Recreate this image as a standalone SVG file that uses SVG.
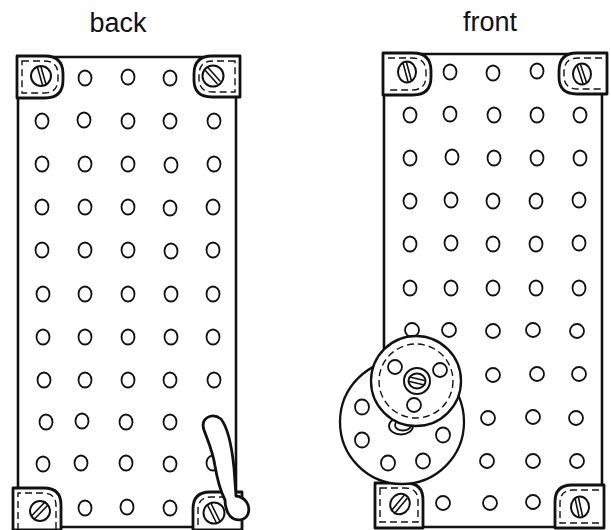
<svg xmlns="http://www.w3.org/2000/svg" width="611" height="530" viewBox="0 0 611 530">
  <style>
    .label { font-family: "Liberation Sans", Arial, sans-serif; font-size: 27px; fill: #111; text-anchor: middle; }
    .panel { fill: none; stroke: #111; stroke-width: 2.6; stroke-linejoin: round; }
    .hole { fill: #fff; stroke: #111; stroke-width: 1.8; }
    .plate { fill: #fff; stroke: #111; stroke-width: 2.8; stroke-linejoin: round; }
    .seam { fill: none; stroke: #111; stroke-width: 1.4; stroke-dasharray: 7 4; }
    .screw { fill: #fff; stroke: #111; stroke-width: 2; }
    .slot { fill: none; stroke: #111; stroke-width: 1.6; stroke-linecap: round; }
    .disc { fill: #fff; stroke: #111; stroke-width: 2.3; }
  </style>
  <rect width="611" height="530" fill="#fff"/>

  <g id="label-back"><text class="label" x="118" y="32">back</text></g>
  <g id="label-front"><text class="label" x="490" y="31">front</text></g>

  <!-- back panel -->
  <g id="panel-back">
    <rect class="panel" x="18" y="57" width="218" height="470"/>
    <g id="holes-back">
      <ellipse class="hole" cx="85" cy="78" rx="6.5" ry="7.5"/>
      <ellipse class="hole" cx="128" cy="77" rx="6.5" ry="7.5"/>
      <ellipse class="hole" cx="170" cy="78" rx="6.5" ry="7.5"/>

      <ellipse class="hole" cx="42" cy="121" rx="6.5" ry="7.5"/>
      <ellipse class="hole" cx="84" cy="120" rx="6.5" ry="7.5"/>
      <ellipse class="hole" cx="128" cy="121" rx="6.5" ry="7.5"/>
      <ellipse class="hole" cx="170" cy="121" rx="6.5" ry="7.5"/>
      <ellipse class="hole" cx="214" cy="121" rx="6.5" ry="7.5"/>

      <ellipse class="hole" cx="42" cy="164" rx="6.5" ry="7.5"/>
      <ellipse class="hole" cx="85" cy="164" rx="6.5" ry="7.5"/>
      <ellipse class="hole" cx="128" cy="164" rx="6.5" ry="7.5"/>
      <ellipse class="hole" cx="171" cy="165" rx="6.5" ry="7.5"/>
      <ellipse class="hole" cx="214" cy="164" rx="6.5" ry="7.5"/>

      <ellipse class="hole" cx="42" cy="207" rx="6.5" ry="7.5"/>
      <ellipse class="hole" cx="85" cy="207" rx="6.5" ry="7.5"/>
      <ellipse class="hole" cx="128" cy="207" rx="6.5" ry="7.5"/>
      <ellipse class="hole" cx="170" cy="208" rx="6.5" ry="7.5"/>
      <ellipse class="hole" cx="213" cy="207" rx="6.5" ry="7.5"/>

      <ellipse class="hole" cx="42" cy="250" rx="6.5" ry="7.5"/>
      <ellipse class="hole" cx="85" cy="250" rx="6.5" ry="7.5"/>
      <ellipse class="hole" cx="128" cy="250" rx="6.5" ry="7.5"/>
      <ellipse class="hole" cx="171" cy="251" rx="6.5" ry="7.5"/>
      <ellipse class="hole" cx="213" cy="250" rx="6.5" ry="7.5"/>

      <ellipse class="hole" cx="43" cy="294" rx="6.5" ry="7.5"/>
      <ellipse class="hole" cx="85" cy="294" rx="6.5" ry="7.5"/>
      <ellipse class="hole" cx="128" cy="294" rx="6.5" ry="7.5"/>
      <ellipse class="hole" cx="171" cy="294" rx="6.5" ry="7.5"/>
      <ellipse class="hole" cx="213" cy="294" rx="6.5" ry="7.5"/>

      <ellipse class="hole" cx="43" cy="337" rx="6.5" ry="7.5"/>
      <ellipse class="hole" cx="85" cy="337" rx="6.5" ry="7.5"/>
      <ellipse class="hole" cx="128" cy="337" rx="6.5" ry="7.5"/>
      <ellipse class="hole" cx="171" cy="337" rx="6.5" ry="7.5"/>
      <ellipse class="hole" cx="213" cy="337" rx="6.5" ry="7.5"/>

      <ellipse class="hole" cx="44" cy="380" rx="6.5" ry="7.5"/>
      <ellipse class="hole" cx="85" cy="380" rx="6.5" ry="7.5"/>
      <ellipse class="hole" cx="128" cy="380" rx="6.5" ry="7.5"/>
      <ellipse class="hole" cx="170" cy="380" rx="6.5" ry="7.5"/>
      <ellipse class="hole" cx="214" cy="380" rx="6.5" ry="7.5"/>

      <ellipse class="hole" cx="46" cy="422" rx="6.5" ry="7.5"/>
      <ellipse class="hole" cx="82" cy="421" rx="6.5" ry="7.5"/>
      <ellipse class="hole" cx="126" cy="422" rx="6.5" ry="7.5"/>
      <ellipse class="hole" cx="170" cy="422" rx="6.5" ry="7.5"/>

      <ellipse class="hole" cx="43" cy="464" rx="6.5" ry="7.5"/>
      <ellipse class="hole" cx="81" cy="463" rx="6.5" ry="7.5"/>
      <ellipse class="hole" cx="126" cy="463" rx="6.5" ry="7.5"/>
      <ellipse class="hole" cx="170" cy="464" rx="6.5" ry="7.5"/>
      <ellipse class="hole" cx="213" cy="463" rx="6.5" ry="7.5"/>

      <ellipse class="hole" cx="85" cy="508" rx="6.5" ry="7.5"/>
      <ellipse class="hole" cx="127" cy="507" rx="6.5" ry="7.5"/>
      <ellipse class="hole" cx="170" cy="508" rx="6.5" ry="7.5"/>
    </g>

    <g id="plate-back-tl">
      <path class="plate" d="M17,56 H45 Q63,56 63,74 V80 Q63,98 45,98 H17 Z"/>
      <path class="seam" d="M22,61 H44 Q58,61 58,75 V79 Q58,93 44,93 H22 Z"/>
      <circle class="screw" cx="41" cy="76" r="10"/>
      <path class="slot" d="M37.5,67.5 L42.5,85 M41,67 L46,84.5"/>
    </g>
    <g id="plate-back-tr">
      <path class="plate" d="M240,56 H212 Q194,56 194,74 V80 Q194,97 212,97 H240 Z"/>
      <path class="seam" d="M235,61 H213 Q199,61 199,75 V79 Q199,92 213,92 H235 Z"/>
      <circle class="screw" cx="213" cy="76" r="10.5"/>
      <path class="slot" d="M204.5,69.5 L217,83.5 M207.5,67 L220,81"/>
    </g>
    <g id="plate-back-bl">
      <path class="plate" d="M13,488 H44 Q61,488 61,505 V530 H13 Z"/>
      <path class="seam" d="M18,530 V493 H43 Q56,493 56,506 V530"/>
      <circle class="screw" cx="40" cy="511" r="10"/>
      <path class="slot" d="M32.5,515 L45,502 M35,518.5 L47.5,505.5"/>
    </g>
    <g id="plate-back-br">
      <path class="plate" d="M242,492 H210 Q193,492 193,509 V530 H242 Z"/>
      <path class="seam" d="M237,497 H211 Q198,497 198,510 V530"/>
      <circle class="screw" cx="214" cy="513" r="10.5"/>
      <path class="slot" d="M207.5,505 L216,522 M211,503.5 L219.5,520.5"/>
    </g>

    <g id="lever">
      <path class="plate" d="M204,430 C200,418 212,412 221,419 C228,428 232,448 234,468 L236,496 C245,497 251,505 248,514 C245,521 236,522 230,516 C226,511 225,505 225,500 C220,490 217,478 215,466 C213,452 208,441 204,430 Z"/>
    </g>
  </g>

  <!-- front panel -->
  <g id="panel-front">
    <rect class="panel" x="384" y="54" width="218" height="473"/>
    <g id="holes-front">
      <ellipse class="hole" cx="450" cy="72" rx="6.5" ry="7.5"/>
      <ellipse class="hole" cx="493" cy="73" rx="6.5" ry="7.5"/>
      <ellipse class="hole" cx="537" cy="71" rx="6.5" ry="7.5"/>

      <ellipse class="hole" cx="410" cy="115" rx="6.5" ry="7.5"/>
      <ellipse class="hole" cx="450" cy="114" rx="6.5" ry="7.5"/>
      <ellipse class="hole" cx="494" cy="115" rx="6.5" ry="7.5"/>
      <ellipse class="hole" cx="537" cy="115" rx="6.5" ry="7.5"/>
      <ellipse class="hole" cx="580" cy="115" rx="6.5" ry="7.5"/>

      <ellipse class="hole" cx="410" cy="158" rx="6.5" ry="7.5"/>
      <ellipse class="hole" cx="452" cy="157" rx="6.5" ry="7.5"/>
      <ellipse class="hole" cx="494" cy="158" rx="6.5" ry="7.5"/>
      <ellipse class="hole" cx="537" cy="158" rx="6.5" ry="7.5"/>
      <ellipse class="hole" cx="580" cy="158" rx="6.5" ry="7.5"/>

      <ellipse class="hole" cx="410" cy="201" rx="6.5" ry="7.5"/>
      <ellipse class="hole" cx="451" cy="200" rx="6.5" ry="7.5"/>
      <ellipse class="hole" cx="493" cy="201" rx="6.5" ry="7.5"/>
      <ellipse class="hole" cx="536" cy="201" rx="6.5" ry="7.5"/>
      <ellipse class="hole" cx="579" cy="200" rx="6.5" ry="7.5"/>

      <ellipse class="hole" cx="410" cy="244" rx="6.5" ry="7.5"/>
      <ellipse class="hole" cx="451" cy="243" rx="6.5" ry="7.5"/>
      <ellipse class="hole" cx="493" cy="244" rx="6.5" ry="7.5"/>
      <ellipse class="hole" cx="536" cy="244" rx="6.5" ry="7.5"/>
      <ellipse class="hole" cx="579" cy="243" rx="6.5" ry="7.5"/>

      <ellipse class="hole" cx="410" cy="288" rx="6.5" ry="7.5"/>
      <ellipse class="hole" cx="451" cy="288" rx="6.5" ry="7.5"/>
      <ellipse class="hole" cx="493" cy="288" rx="6.5" ry="7.5"/>
      <ellipse class="hole" cx="536" cy="288" rx="6.5" ry="7.5"/>
      <ellipse class="hole" cx="579" cy="288" rx="6.5" ry="7.5"/>

      <ellipse class="hole" cx="412" cy="330" rx="7" ry="7"/>
      <ellipse class="hole" cx="449" cy="330" rx="7" ry="7"/>
      <ellipse class="hole" cx="493" cy="331" rx="7" ry="7"/>
      <ellipse class="hole" cx="533" cy="330" rx="7" ry="7"/>
      <ellipse class="hole" cx="577" cy="331" rx="7" ry="7"/>

      <ellipse class="hole" cx="493" cy="375" rx="7" ry="7"/>
      <ellipse class="hole" cx="537" cy="374" rx="7" ry="7"/>
      <ellipse class="hole" cx="579" cy="374" rx="7" ry="7"/>

      <ellipse class="hole" cx="488" cy="418" rx="7" ry="7"/>
      <ellipse class="hole" cx="533" cy="417" rx="7" ry="7"/>
      <ellipse class="hole" cx="576" cy="418" rx="7" ry="7"/>

      <ellipse class="hole" cx="487" cy="461" rx="7" ry="7"/>
      <ellipse class="hole" cx="533" cy="461" rx="7" ry="7"/>
      <ellipse class="hole" cx="577" cy="461" rx="7" ry="7"/>

      <ellipse class="hole" cx="443" cy="503" rx="7" ry="7"/>
      <ellipse class="hole" cx="490" cy="503" rx="7" ry="7"/>
      <ellipse class="hole" cx="533" cy="502" rx="7" ry="7"/>
    </g>

    <g id="plate-front-tl">
      <path class="plate" d="M383,53 H413 Q431,53 431,71 V77 Q431,95 413,95 H383 Z"/>
      <path class="seam" d="M388,58 H412 Q426,58 426,72 V76 Q426,90 412,90 H388"/>
      <ellipse class="screw" cx="407" cy="72" rx="9" ry="10.5"/>
      <path class="slot" d="M403,63 L408,81.5 M406.5,62.5 L411.5,81"/>
    </g>
    <g id="plate-front-tr">
      <path class="plate" d="M607,53 H577 Q559,53 559,71 V77 Q559,94 577,94 H607 Z"/>
      <path class="seam" d="M602,58 H578 Q564,58 564,72 V76 Q564,89 578,89 H602"/>
      <ellipse class="screw" cx="582" cy="74" rx="9" ry="10.5"/>
      <path class="slot" d="M577,65.5 L583,83.5 M580.5,64.5 L586.5,82.5"/>
    </g>
    <g id="plate-front-bl">
      <path class="plate" d="M375,483 H406 Q423,483 423,500 V528 H375 Z"/>
      <path class="seam" d="M380,488 H405 Q418,488 418,501 V522 H380 Z"/>
      <ellipse class="screw" cx="400" cy="504" rx="9.5" ry="10.5" transform="rotate(30 400 504)"/>
      <path class="slot" d="M391.5,510.5 L404,495.5 M394.5,513.5 L407,498.5"/>
    </g>
    <g id="plate-front-br">
      <path class="plate" d="M604,485 H572 Q555,485 555,502 V528 H604 Z"/>
      <path class="seam" d="M599,490 H573 Q560,490 560,503 V523 H599"/>
      <ellipse class="screw" cx="580" cy="507" rx="9" ry="10.5"/>
      <path class="slot" d="M575,498 L579,516.5 M578.5,497.5 L582.5,516"/>
    </g>

    <g id="disc-large">
      <circle class="disc" cx="402" cy="422" r="62"/>
      <ellipse class="hole" cx="362" cy="407" rx="7" ry="7.5"/>
      <ellipse class="hole" cx="362" cy="440" rx="7" ry="7.5"/>
      <ellipse class="hole" cx="388" cy="463" rx="7" ry="7.5"/>
      <ellipse class="hole" cx="423" cy="461" rx="7" ry="7.5"/>
      <ellipse class="hole" cx="443" cy="435" rx="7" ry="7.5"/>
      <!-- hub of the large disc, partly under the small disc -->
      <ellipse class="hole" cx="401" cy="426" rx="12" ry="8.5"/>
      <ellipse class="hole" cx="403" cy="425" rx="8" ry="5.5"/>
    </g>
    <g id="disc-small">
      <circle class="disc" cx="416" cy="381" r="45"/>
      <circle class="seam" cx="416" cy="381" r="37" stroke-dasharray="10 5"/>
      <ellipse class="hole" cx="395" cy="367" rx="7" ry="7"/>
      <ellipse class="hole" cx="440" cy="370" rx="7" ry="7"/>
      <ellipse class="hole" cx="414" cy="405" rx="7" ry="7"/>
      <circle class="screw" cx="417" cy="381" r="13"/>
      <ellipse class="screw" cx="417" cy="381" rx="8.5" ry="7.5"/>
      <path class="slot" d="M409.5,377 L424.5,380.5 M409.5,381.5 L424.5,385"/>
    </g>
  </g>
</svg>
